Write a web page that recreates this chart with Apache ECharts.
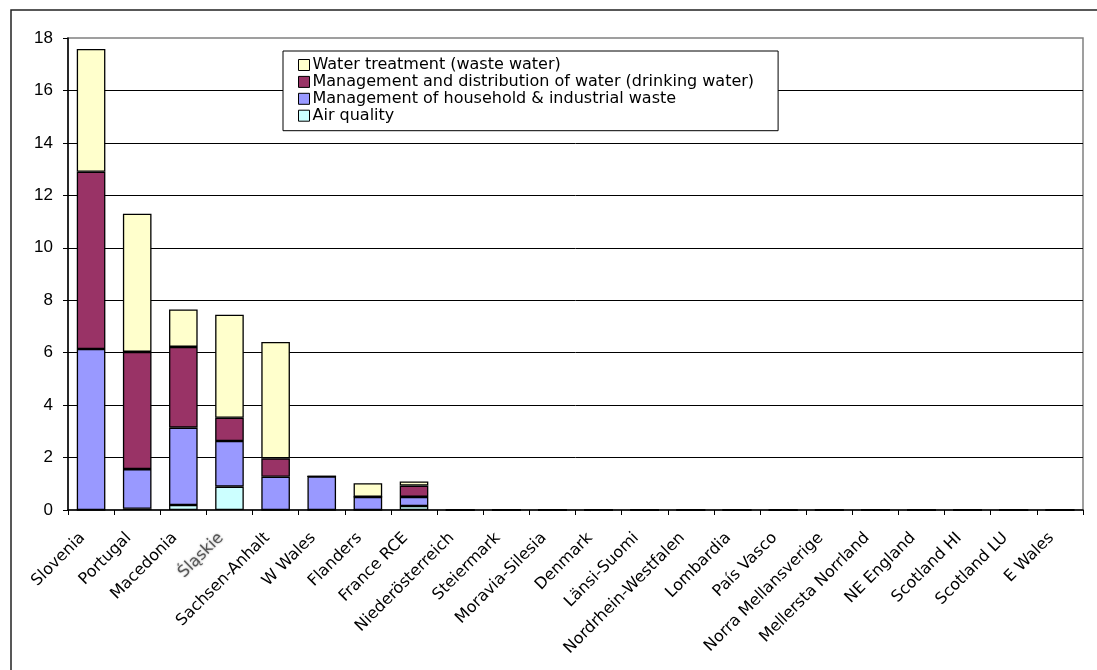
<!DOCTYPE html>
<html>
<head>
<meta charset="utf-8">
<script src="https://cdn.jsdelivr.net/npm/echarts@6/dist/echarts.min.js"></script>
<style>
html,body{margin:0;padding:0;background:#fff;}
#chart{width:1097px;height:670px;}
</style>
</head>
<body>
<div id="chart"></div>
<script>
const categories = ["Slovenia","Portugal","Macedonia","Śląskie","Sachsen-Anhalt","W Wales","Flanders","France RCE","Niederösterreich","Steiermark","Moravia-Silesia","Denmark","Länsi-Suomi","Nordrhein-Westfalen","Lombardia","País Vasco","Norra Mellansverige","Mellersta Norrland","NE England","Scotland HI","Scotland LU","E Wales"];
const airQuality      = [0,    0.05, 0.19, 0.89, 0,    0,    0,    0.15, 0,0,0,0,0,0,0,0,0,0,0,0,0,0];
const wasteMgmt       = [6.14, 1.51, 2.95, 1.74, 1.27, 1.28, 0.50, 0.35, 0,0,0,0,0,0,0,0,0,0,0,0,0,0];
const drinkingWater   = [6.76, 4.47, 3.08, 0.89, 0.70, 0,    0,    0.43, 0,0,0,0,0,0,0,0,0,0,0,0,0,0];
const wasteWater      = [4.68, 5.27, 1.43, 3.93, 4.44, 0,    0.52, 0.16, 0,0,0,0,0,0,0,0,0,0,0,0,0,0];
const seriesNames = ["Water treatment (waste water)","Management and distribution of water (drinking water)","Management of household & industrial waste","Air quality"];
const yTicks = [0,2,4,6,8,10,12,14,16,18];

const chart = echarts.init(document.getElementById('chart'));
function bar(name, data, color){
  return {name, type:'bar', stack:'total', data, barCategoryGap:'38%',
    itemStyle:{color, borderColor:'#000', borderWidth:1.3}};
}
chart.setOption({
  animation:false,
  backgroundColor:'#fff',
  graphic:[{type:'rect', shape:{x:11,y:10,width:1200,height:800}, style:{fill:'none', stroke:'#222', lineWidth:1.5}, silent:true}],
  grid:{left:68, top:38, right:14, bottom:160, show:true, borderColor:'#808080', borderWidth:1.5, backgroundColor:'transparent'},
  legend:{
    data:seriesNames, orient:'vertical', left:283, top:51,
    backgroundColor:'#fff', borderColor:'#000', borderWidth:1,
    padding:[6,24,7,15], itemGap:0.9, itemWidth:11, itemHeight:11, icon:'rect',
    itemStyle:{borderColor:'#000', borderWidth:1},
    textStyle:{fontFamily:'DejaVu Sans', fontSize:16, color:'#000', lineHeight:16, padding:[0,0,0,-2]}
  },
  xAxis:{
    type:'category', data:categories,
    axisLine:{lineStyle:{color:'#000', width:1.5}},
    axisTick:{show:true, length:5, lineStyle:{color:'#000'}},
    axisLabel:{rotate:45, interval:0, margin:17, padding:[0,12,0,0], fontFamily:'DejaVu Sans', fontSize:16, color:'#000',
      formatter:v=>v==='Śląskie'?'{g|'+v+'}':v, rich:{g:{color:'#555', fontFamily:'DejaVu Sans', fontSize:16, textShadowColor:'#999', textShadowBlur:2}}}
  },
  yAxis:{
    type:'value', min:0, max:18, interval:2,
    axisLine:{show:true, lineStyle:{color:'#000', width:1.5}},
    axisTick:{show:true, length:5, lineStyle:{color:'#000'}},
    axisLabel:{margin:15, fontFamily:'Liberation Sans', fontSize:17, color:'#000',
      formatter:v=>yTicks.includes(v)?String(v):''},
    splitLine:{show:true, showMinLine:false, showMaxLine:false, lineStyle:{color:'#000', width:1}}
  },
  series:[
    bar(seriesNames[3], airQuality, '#CCFFFF'),
    bar(seriesNames[2], wasteMgmt, '#9999FF'),
    bar(seriesNames[1], drinkingWater, '#993366'),
    bar(seriesNames[0], wasteWater, '#FFFFCC')
  ]
});
</script>
</body>
</html>
